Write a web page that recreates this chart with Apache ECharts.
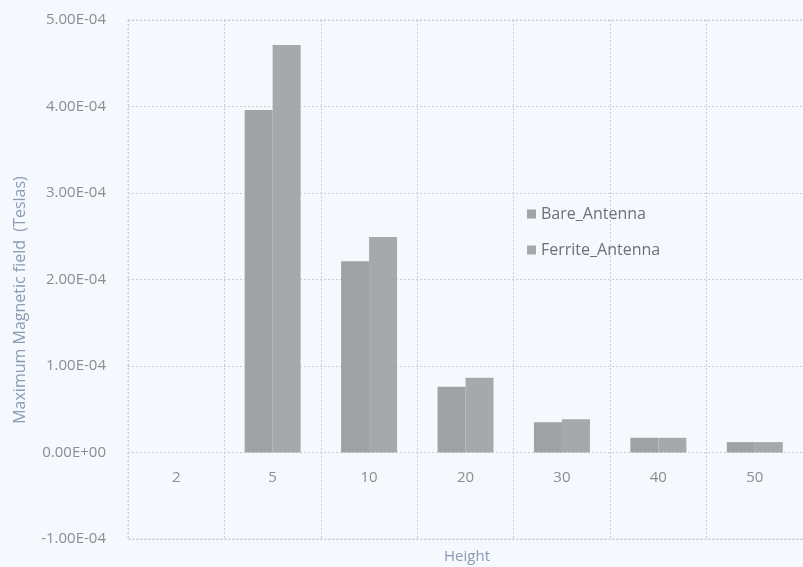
<!DOCTYPE html>
<html>
<head>
<meta charset="utf-8">
<script src="https://cdn.jsdelivr.net/npm/echarts@6/dist/echarts.min.js"></script>
<style>
  html, body { margin: 0; padding: 0; background: #f5f8fc; }
  #chart { width: 803px; height: 567px; }
</style>
</head>
<body>
<div id="chart"></div>
<script>
// Heights (category axis) and peak field per antenna type
const heights = ['2', '5', '10', '20', '30', '40', '50'];
const bareAntenna = [0, 3.96e-4, 2.21e-4, 0.76e-4, 0.35e-4, 0.17e-4, 0.12e-4];
const ferriteAntenna = [0, 4.71e-4, 2.49e-4, 0.865e-4, 0.385e-4, 0.17e-4, 0.12e-4];
const yTicks = { min: -1e-4, max: 5e-4, step: 1e-4 };

// Format as Excel-style scientific notation, e.g. 5.00E-04
function sci(v) {
  const r = Math.round(v * 1e8) / 1e8;
  if (r === 0) return '0.00E+00';
  const s = r.toExponential(2).toUpperCase();
  const m = s.match(/^(-?[\d.]+)E([+-])(\d+)$/);
  return m[1] + 'E' + m[2] + m[3].padStart(2, '0');
}

const FONT = 'Open Sans, DejaVu Sans, sans-serif';
const gridLine = { color: '#c9ccd2', type: [2, 2], width: 1 };
const labelFont = { color: '#8a8d92', fontSize: 15, fontFamily: FONT };

const grid = { left: 128, right: -6, top: 20, bottom: 28 };
const plotH = 567 - grid.top - grid.bottom;
// distance from the plot bottom up to the zero line
const zeroLift = plotH * (0 - yTicks.min) / (yTicks.max - yTicks.min);

const chart = echarts.init(document.getElementById('chart'));
chart.setOption({
  backgroundColor: '#f5f8fc',
  animation: false,
  grid: Object.assign({ containLabel: false }, grid),
  legend: {
    orient: 'vertical',
    left: 522,
    top: 201,
    itemWidth: 9,
    itemHeight: 9,
    itemGap: 20,
    icon: 'rect',
    textStyle: { color: '#6d7076', fontSize: 16, fontFamily: FONT },
    data: ['Bare_Antenna', 'Ferrite_Antenna']
  },
  xAxis: [{
    type: 'category',
    data: heights,
    boundaryGap: true,
    axisLine: { show: false },
    axisTick: { show: false },
    axisLabel: { show: false },
    splitLine: { show: true, lineStyle: gridLine }
  }, {
    // label row sitting just under the zero line
    type: 'category',
    data: heights,
    position: 'bottom',
    offset: -zeroLift,
    axisLine: { show: false },
    axisTick: { show: false },
    axisLabel: Object.assign({ margin: 18 }, labelFont),
    splitLine: { show: false }
  }],
  yAxis: {
    type: 'value',
    min: yTicks.min,
    max: yTicks.max,
    interval: yTicks.step,
    axisLine: { show: false },
    axisTick: { show: false },
    axisLabel: Object.assign({ margin: 22, formatter: sci }, labelFont),
    splitLine: { show: true, lineStyle: gridLine }
  },
  graphic: [{
    type: 'text',
    x: 20,
    y: 300,
    rotation: Math.PI / 2,
    style: {
      text: 'Maximum Magnetic field  (Teslas)',
      fill: '#8b9bb3', fontSize: 16, fontFamily: FONT,
      align: 'center', verticalAlign: 'middle'
    }
  }, {
    type: 'text',
    x: 467,
    y: 557,
    style: {
      text: 'Height', fill: '#8b9bb3', fontSize: 15, fontFamily: FONT,
      align: 'center', verticalAlign: 'middle'
    }
  }, {
    type: 'rect',
    shape: { x: grid.left, y: grid.top, width: 700, height: plotH },
    style: { fill: 'none', stroke: '#c9ccd2', lineDash: [2, 2] },
    silent: true
  }],
  series: [{
    name: 'Bare_Antenna',
    type: 'bar',
    data: bareAntenna,
    barWidth: 28,
    barGap: '0%',
    itemStyle: { color: '#a0a2a5' }
  }, {
    name: 'Ferrite_Antenna',
    type: 'bar',
    data: ferriteAntenna,
    barWidth: 28,
    itemStyle: { color: '#a6a8ab' }
  }]
});
</script>
</body>
</html>
